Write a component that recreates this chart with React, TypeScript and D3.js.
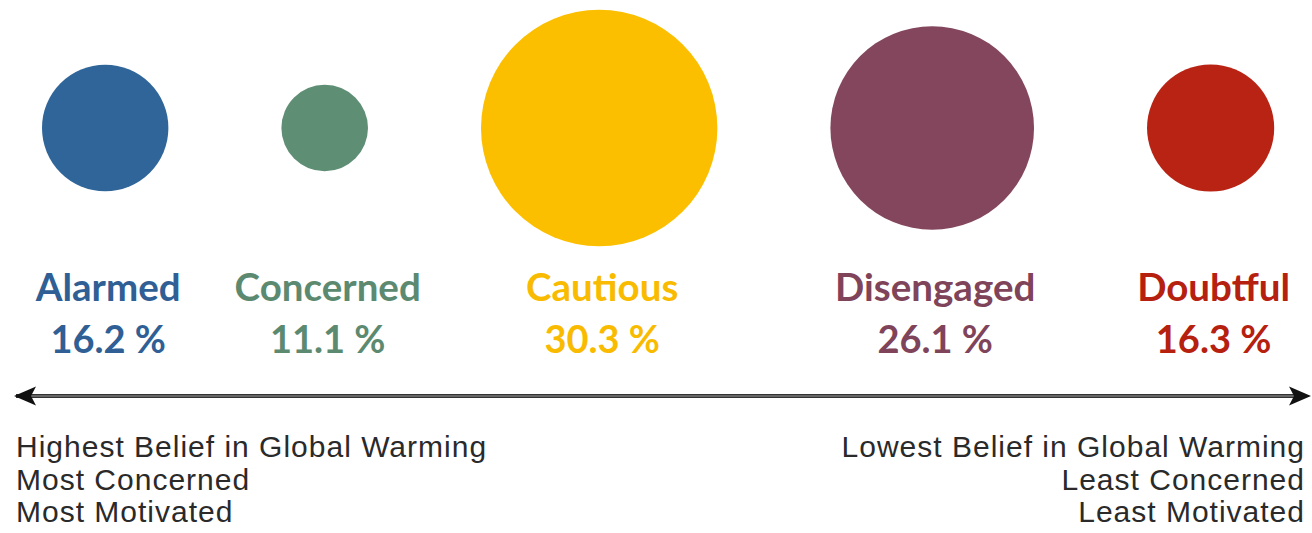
import React from "react";
import * as d3 from "d3";

const categories = ["Alarmed", "Concerned", "Cautious", "Disengaged", "Doubtful"];
const shares = [16.2, 11.1, 30.3, 26.1, 16.3];
const colors = ["#2f6599", "#5e8e74", "#fcbf00", "#83465c", "#b82314"];
const textColors = ["#2f5f94", "#5b8a70", "#f9bb00", "#7f4459", "#b5200f"];
const leftNotes = ["Highest Belief in Global Warming", "Most Concerned", "Most Motivated"];
const rightNotes = ["Lowest Belief in Global Warming", "Least Concerned", "Least Motivated"];

const W = 1312;
const H = 533;

export default function App() {
  const r = d3.scaleLinear().domain([0, 30.3]).range([0, 118.2]);
  const gap = 113;
  const startX = 42;
  const cy = 128;
  const xs: number[] = [];
  let cursor = startX;
  shares.forEach((v) => {
    const rad = r(v);
    xs.push(cursor + rad);
    cursor += 2 * rad + gap;
  });

  const labelFont = "Lato, 'Open Sans', sans-serif";
  const arrowY = 396;

  return (
    <svg
      width={W}
      height={H}
      style={{ position: "absolute", left: 0, top: 0, display: "block", background: "#fff" }}
    >
      {shares.map((v, i) => (
        <circle key={categories[i]} cx={xs[i]} cy={cy} r={r(v)} fill={colors[i]} />
      ))}
      {categories.map((c, i) => (
        <g key={"t" + c} fill={textColors[i]} style={{ fontFamily: labelFont }} fontWeight={700} textAnchor="middle">
          <text x={xs[i] + 3} y={301} fontSize={38.5}>{c}</text>
          <text x={xs[i] + 3} y={353} fontSize={38}>{d3.format(".1f")(shares[i])} %</text>
        </g>
      ))}
      <line x1={16} x2={1296} y1={arrowY} y2={arrowY} stroke="#333" strokeWidth={4} />
      <line x1={16} x2={1296} y1={arrowY} y2={arrowY} stroke="#9a9a9a" strokeWidth={1} />
      <path d={`M14,${arrowY} L36,${arrowY - 9.5} L31,${arrowY} L36,${arrowY + 9.5} Z`} fill="#111" />
      <path d={`M1311,${arrowY} L1289,${arrowY - 9.5} L1294,${arrowY} L1289,${arrowY + 9.5} Z`} fill="#111" />
      <g style={{ fontFamily: "'Liberation Sans', Arial, sans-serif", letterSpacing: "1px" }} fontSize={30} fill="#2a2a2a">
        {leftNotes.map((t, i) => (
          <text key={t} x={16} y={457 + i * 32.5}>{t}</text>
        ))}
        {rightNotes.map((t, i) => (
          <text key={t} x={1305} y={457 + i * 32.5} textAnchor="end">{t}</text>
        ))}
      </g>
    </svg>
  );
}
